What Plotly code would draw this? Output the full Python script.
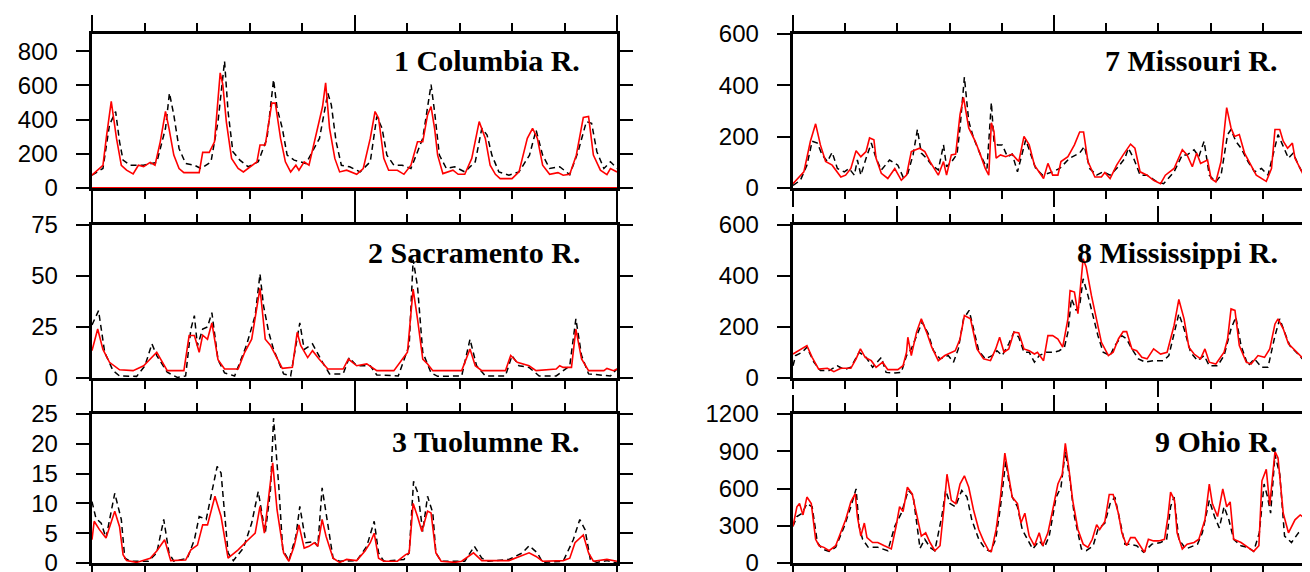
import plotly.graph_objects as go

# ---------------- data (months since start, monthly discharge) ----------------
col_blk_m = [0,2.5,4,5.4,6.3,7.1,8.7,11.8,14.8,16.8,17.7,18.7,19.9,21.4,23.4,24.9,27.2,28.8,30.3,31.1,32.2,33.8,35.7,38,40,41.5,42.3,43.5,44.6,46.2,47.7,48.9,52,53.9,54.7,55.8,57,58.9,61.3,63.6,65.1,66.3,67.4,69,70.9,72.9,75.6,77.5,78.3,79.4,81,82.9,85.2,87.6,89.1,90.3,91.4,93,95.3,97.6,100,101.5,103,104.6,106.9,109.2,111.1,113,114.2,115.4,117,118.5,120]
col_blk_v = [75,114,369,447,270,163,133,133,150,349,555,427,231,143,133,114,153,388,741,447,212,163,124,153,290,633,467,349,192,163,153,143,290,555,486,270,133,124,94,153,418,349,192,133,133,114,290,604,447,192,114,124,94,153,349,310,192,94,75,94,192,339,192,114,124,78,212,388,378,212,114,153,114]
col_red_m = [0,2.5,3.3,4.4,5.6,6.7,7.9,9.4,10.6,11.8,13.3,14.4,15.6,16.8,17.6,18.7,19.9,21,22.6,24.5,25.3,26.8,28,29.3,29.9,30.7,31.9,33.4,34.6,36.5,37.7,38.4,39.6,41.1,41.9,43.1,44.2,45.4,46.6,47.3,48.5,49.6,51.2,52.7,53.4,54.3,55.5,56.6,58.2,60.5,62,63.6,64.7,65.5,66.7,67.8,69.8,71.3,72.9,74.4,75.6,76.7,77.5,78.3,79,80.2,82.5,83.7,85.2,86.8,88.5,89.9,91,92.2,93.3,96,97.6,99.5,100.7,101.8,103,104.6,106.5,107.7,109.2,110.7,112.3,113.5,114.6,116.2,117.7,118.5,120]
col_red_v = [75,133,300,506,290,133,104,82,133,125,150,133,270,447,349,192,114,90,90,90,208,208,270,673,604,388,173,114,94,133,153,251,251,496,496,290,153,94,133,104,153,133,310,476,614,349,173,94,104,80,114,290,447,408,173,104,104,80,133,270,270,427,476,349,192,84,104,80,80,173,388,290,133,80,55,55,94,290,349,290,133,80,90,75,80,192,412,418,192,104,78,114,94]

sac_blk_m = [0,1.5,2.9,4.8,6.3,10.2,12.1,13.7,14.8,17.2,19.5,21.4,22.6,23.4,24.1,25.3,26.4,27.4,28.8,30.3,32.6,35.3,37.3,38.4,39.2,40.4,41.5,43.8,45.4,46.6,47.5,48.5,50.4,52.7,54.3,57.4,58.8,60.5,63.6,65.1,70,72.5,73.4,74.4,75.6,77.5,79,84.5,86.4,87.9,89.9,94.5,96,97.6,99.9,102.2,106.1,109.2,110.6,111.9,113.5,118.5,120]
sac_blk_v = [26,33,12.6,3.6,1,0.8,6,16.7,11,2.8,0.3,1,24,30.6,15.8,24,25,32,9,2.5,1,16,30.6,51,35.5,22.4,14,2,1,16,27,14,16.7,7.7,2,2,10,6,6,1.5,1,16,58,45,12.6,2.5,0.8,1,19,6,1,1,11,6,5.2,1,1,6,29,11,2,1,4.4]
sac_red_m = [0,1.3,2.5,4,6.3,9.4,11.8,14.8,17.2,21,22.2,23.4,24.5,25.3,26.4,27.4,28.8,30.3,33.4,34.9,36.5,38.4,39.6,40.8,43.5,45.8,46.9,47.7,49.3,50.4,51.9,53.9,57.4,58.6,60.5,62.8,65.1,69,72.1,73.4,74.4,75.6,76.7,77.9,84.5,86.4,87.6,89.1,94.5,95.7,97.2,99.9,101.5,106.1,106.9,107.7,109.6,110.6,111.9,113.5,117,117.7,119.2,120]
sac_red_v = [13.4,24,14,7.7,4,3.6,6,12.6,3.6,3.6,20.8,20.8,12.6,21,19,27,9,4.4,4.4,12.6,19,44,19,16,4.7,5.2,22.4,16,10,13.4,9.3,4.4,4.4,9.3,6,6.9,3.6,3.6,12.6,43.6,29,9.3,6.9,3.6,3.6,14.2,6,3.6,3.6,11,7.7,6,3.6,4.4,6,5.2,5.2,24,9.3,3.6,3.6,4.7,3.6,4.4]

tuo_blk_m = [0,0.9,2.1,3.2,5.2,6.7,7.5,8.7,12.9,14.8,16.4,17.6,18.7,21.8,23.4,24.5,26.1,27.2,28.6,29.5,30.3,31.1,32.3,34.6,36.5,38,39.6,40.8,41.5,42.7,43.6,45,46.6,47.5,48.9,50.8,51.6,52.6,53.5,55.1,56.6,60.5,62.8,64.5,65.5,66.7,71.3,72.5,73.5,74.5,75.6,76.7,77.9,78.6,79.8,85.2,87.4,89.1,90.6,95.3,98.4,99.9,101.8,103,107.7,110,111.5,112.7,113.9,115.4,117.7,120]
tuo_blk_v = [10.3,7.5,6.7,4.2,11.7,7.3,0.8,0.3,0.3,1.7,7.3,1.7,0.3,0.8,3.9,7.8,7.3,11.2,16.2,15.1,7.8,1.7,0.4,2.5,6.7,12,5,12.3,24.3,12.8,2.2,0.4,4.5,9.5,3.4,3.6,2.8,12.6,8.4,0.8,0.3,0.4,2.8,7,1.7,0.3,0.6,1.7,13.7,11.7,5.3,11.2,8.4,1.7,0.3,0.3,2.8,0.8,0.3,0.6,1.7,2.9,1.7,0.1,0.3,3.9,7.3,5.6,0.6,0.1,0.4,0]
tuo_red_m = [0,0.5,1.7,3.2,5.2,6.3,7.1,7.9,10.2,13.3,14.8,16.6,18,21.4,22.6,24.1,25.3,26.4,28.1,29.5,31.1,33.4,35.3,37.3,38.4,39.4,40.4,41.3,42.3,43.8,45,46.2,47.3,48.5,49.6,50.8,51.6,52.6,53.5,55.1,56.6,58.2,60.5,62.4,63.6,64.5,65.5,66.7,69.8,71.7,72.5,73.4,74.4,75.4,76.7,77.5,78.6,79.8,82.9,84.5,87.2,89.1,95.3,97.6,99.9,101.5,103,107.7,109.2,110.4,112.3,113.5,114.6,117.7,120]
tuo_red_v = [3.9,7,5.6,4.2,8.7,6.1,1.4,0.4,0.1,0.8,2,3.9,0.4,0.5,2.2,3,6.4,6.4,11.2,7.8,0.8,2.2,3.6,5,9.5,5,11.2,16.8,8.9,1.7,0.3,2.8,6.4,2.5,2.8,3.4,2.8,7.3,4.5,0.8,0.1,0.6,0.4,2,3.4,5,0.8,0.3,0.3,1.4,1.7,10,7.8,5.3,8.7,8.4,1.7,0.3,0.1,0.3,1.7,0.4,0.4,1.1,1.7,1.1,0.3,0.4,0.8,3.4,4.7,1.7,0.3,0.6,0.3]

mo_blk_m = [0,1.7,3.2,4.4,5.6,6.7,7.9,9,10.2,11.8,12.9,14.1,14.8,15.6,16.8,18,19.1,20.3,22.2,24.1,25.3,26.4,27.6,28.6,29.5,30.7,31.9,33.4,34.6,35.3,36.5,37.7,38.4,39.4,40.4,41.5,43.1,44.6,45.6,46.2,47,48.1,49.3,50.4,51.6,53.5,54.7,55.8,57.4,59.7,61.3,63.6,65.9,67,68.2,69.8,71.3,72.9,74.8,76.3,77.1,78.3,79.8,81.4,83.7,85.2,87.6,89.5,90.6,92.2,93.3,94.5,95.7,97.2,98.4,99.9,100.7,101.8,103,104.6,106.1,107.7,109.2,110.1,111.5,112.7,113.9,115,116.2,117.4,118.9,120]
mo_blk_v = [10,30,89,182,175,129,103,139,76,63,76,50,109,50,116,175,116,70,109,89,43,57,129,228,136,116,89,70,168,83,103,132,234,432,260,195,129,76,333,182,168,168,122,132,63,188,129,76,50,63,76,116,136,162,76,50,63,50,83,116,155,116,50,50,24,17,63,129,129,149,122,182,50,24,50,208,228,182,155,103,63,76,50,116,208,162,116,136,89,50,103,63]
mo_red_m = [0,2.5,4,5.2,6.3,7.5,9,11,12.1,13.3,14.5,15.6,16.8,17.6,18.6,19.1,20.3,21.8,23.4,24.9,26.1,27.2,29.1,30.3,31.5,33.4,34.6,35.3,36.4,37.4,38.4,39.2,40.4,41.9,43.1,44.2,45,45.6,46.2,46.7,47.7,48.9,50.4,51.9,53.1,54.3,55.5,56.6,57.6,58.6,59.7,60.9,61.6,63.2,64.7,65.9,66.8,67.8,69.4,70.9,71.7,72.9,74.4,75.9,77.6,78.6,79.8,81.4,82.9,84.5,85.6,87.6,89.5,90.6,91.8,92.8,93.7,95.3,96.1,97.2,98.4,99.7,100.7,101.5,102.6,103.8,105.3,106.5,108.8,110,110.8,111.9,112.7,113.7,114.8,115.4,116.6,117.7,118.9,120]
mo_red_v = [17,63,182,250,168,103,89,43,50,76,145,122,142,195,188,116,57,37,76,30,50,142,155,142,103,50,103,50,129,132,287,353,234,182,129,76,50,254,221,116,129,122,132,103,201,168,89,63,37,96,50,50,103,122,168,218,218,103,43,43,60,37,89,129,171,155,63,50,30,17,50,76,149,129,83,136,96,109,37,24,103,313,234,201,208,136,89,50,26,76,228,228,182,155,175,116,76,37,57,37]

ms_blk_m = [0,0.6,2.1,3.2,4.8,6.3,8.3,10.2,11.8,13.3,15.2,16.8,18.3,20.3,21.4,23.4,24.9,26.1,27.2,28.4,29.7,31.1,32.3,33.8,35.7,36.9,38,39.2,40.5,41.5,42.7,44.2,45.8,46.9,48.1,49.6,50.8,51.9,53.1,54.3,55.5,56.6,58.2,60,61.2,62.4,63.2,64,65.1,65.9,66.7,67.8,69,70.1,71.3,72.9,74,75.6,76.7,77.9,79.4,81,82.9,85.2,86.4,87.6,88.7,89.9,91.4,93,94.5,95.7,97.6,99.1,100.7,101.8,103,104.6,106.1,107.7,109.2,110.8,111.9,113,114.2,115.7,117.4,118.9,120]
ms_blk_v = [48,88,101,121,62,29,29,48,33,42,101,81,42,81,22,20,22,88,114,166,219,173,107,75,88,62,114,232,265,193,107,75,88,107,88,134,180,160,101,101,62,88,101,101,107,121,180,311,265,284,389,324,245,166,101,88,127,166,153,114,75,62,68,68,88,180,252,193,101,68,88,48,48,88,193,239,127,48,75,42,42,166,232,180,127,101,68,42,48]
ms_red_m = [0,1.3,3.2,4.4,5.9,7.9,9.4,11,13.3,14.5,15.5,16.6,18,19.1,20.6,21.8,24.1,25.3,26.1,26.4,27.2,28.4,29.5,30.7,31.9,33.4,34.9,37.3,38.4,39.4,40.8,42.3,43.8,45.4,46.6,47.5,48.5,49.6,50.8,51.9,53.1,54.3,55.5,56.2,57.6,58.6,59.7,60.9,62,63.2,63.7,64.7,65.5,66.7,67.4,68.6,69.8,70.9,72.5,73.6,74.8,75.9,76.7,77.9,79,80.2,81.4,82.9,84.5,86,87.6,88.7,89.9,91,92.2,93.7,94.7,95.7,97.2,99.1,99.9,100.7,101.6,102.6,104.2,105.3,106.9,108.4,109.6,110.8,111.5,112.7,113.9,115.4,117.4,118.5,120]
ms_red_v = [94,107,127,81,35,38,25,38,38,75,114,81,68,42,62,33,33,48,101,160,88,180,232,180,121,68,88,107,153,245,232,114,75,68,114,160,101,114,180,177,114,107,94,101,68,166,166,153,121,232,343,337,252,468,435,324,232,140,88,101,153,182,182,114,107,81,75,114,94,101,206,308,232,121,94,75,114,62,55,101,153,271,265,127,62,55,88,81,114,212,232,193,134,107,75,55,68]

oh_blk_m = [0,0.9,2.1,3.2,4.4,5.6,6.7,8.3,9.8,11.8,13.3,14.5,15.2,16,17.3,19.5,21.8,23.4,24.9,26.5,27.6,29.2,30.3,31.5,32.6,34.2,35.1,36.1,37.3,38.8,40,41.1,42.7,44.2,45.4,46.6,47.7,48.9,49.6,50.4,51.6,52.7,53.9,55.1,56.6,57.8,58.9,60.5,61.6,62.6,63.6,64.7,66.3,67.4,69,70.1,71.7,72.9,74,75.2,76.3,77.5,79,80.6,82.5,84.5,85.9,86.8,87.6,88.7,90.3,93,94.1,95.7,96.9,98,99.1,100.2,101.3,103,104.6,105.9,107.2,108.3,109.1,109.8,110.8,111.9,113,114.6,116.2,117.7,118.9,119.6,120]
oh_blk_v = [296,374,401,479,453,165,113,94,126,296,453,597,296,191,126,126,99,296,401,584,545,118,191,126,99,374,584,479,453,584,531,348,191,113,92,191,453,819,662,531,453,270,191,113,178,126,217,531,610,898,688,374,113,99,139,270,322,479,531,322,152,152,139,86,152,165,191,453,531,191,113,152,243,505,374,283,453,348,191,139,126,94,243,636,531,401,872,715,217,165,243,270,243,453,322]
oh_red_m = [0,0.9,1.5,2.3,3.2,4.2,5.2,6,7.1,8.3,9.8,11,12.1,13.3,14.3,14.8,15.6,16.4,17,18.3,19.5,21,22.6,23.7,24.5,25.3,26.3,27.4,28.6,29.5,30.5,31.5,32.6,33.8,34.8,35.4,36.4,37.4,38.4,39.4,40.4,41.5,42.7,43.8,45,45.6,46.7,47.7,48.7,49.5,50.4,51.6,52.4,53.3,54.3,55.5,56.6,57.4,58.6,59.7,60.9,61.9,62.6,63.4,64.3,65.5,66.7,67.8,68.8,69.8,70.5,71.7,72.7,73.6,74.8,75.6,76.7,77.6,78.6,79.8,80.8,81.7,82.9,84.1,85.4,86.2,86.8,87.7,88.3,89.5,90.6,92.2,93.3,94.7,95.7,96.4,97.6,98.8,99.7,100.5,101.3,103,104.6,105.9,107.1,107.8,108.8,109.6,110.8,111.5,112.7,113.9,115.4,116.6,117.7,118.9,119.6,120]
oh_red_v = [296,453,479,387,531,479,191,139,126,99,139,243,348,492,558,374,217,322,204,165,165,139,113,296,453,414,610,558,348,217,243,165,99,139,479,715,505,479,636,702,610,427,270,178,99,92,270,531,885,715,531,479,322,401,217,139,243,139,243,427,636,715,963,767,505,270,152,126,191,309,270,335,552,552,401,243,139,204,204,139,86,191,178,178,191,374,571,505,243,113,152,165,191,348,636,479,374,597,453,492,191,165,126,94,139,662,754,466,898,846,401,243,348,387,361,427,500,479]

panel_titles = ["1 Columbia R.", "2 Sacramento R.", "3 Tuolumne R.",
                "7 Missouri R.", "8 Mississippi R.", "9 Ohio R."]
y_ranges = [[0, 900], [0, 75], [0, 25], [0, 600], [0, 600], [0, 1200]]
y_dticks = [200, 25, 5, 200, 200, 300]
major_tick0 = [0, 0, 0, 0, 24, 0]

series = [
    (col_blk_m, col_blk_v, col_red_m, col_red_v),
    (sac_blk_m, sac_blk_v, sac_red_m, sac_red_v),
    (tuo_blk_m, tuo_blk_v, tuo_red_m, tuo_red_v),
    (mo_blk_m, mo_blk_v, mo_red_m, mo_red_v),
    (ms_blk_m, ms_blk_v, ms_red_m, ms_red_v),
    (oh_blk_m, oh_blk_v, oh_red_m, oh_red_v),
]

# ---------------- layout geometry ----------------
W, H = 1310, 572
col_x = [(84, 609), (785, 1307)]
row_y = [(26, 180), (217, 370), (406, 555)]

fig = go.Figure()
layout = dict(width=W, height=H, margin=dict(l=0, r=0, t=0, b=0),
              paper_bgcolor="white", plot_bgcolor="white", showlegend=False)

for i in range(6):
    c, r = i // 3, i % 3
    x0, x1 = col_x[c]
    ytop, ybot = row_y[r]
    xa = "xaxis" if i == 0 else f"xaxis{i+1}"
    ya = "yaxis" if i == 0 else f"yaxis{i+1}"
    xr = "x" if i == 0 else f"x{i+1}"
    yr = "y" if i == 0 else f"y{i+1}"
    layout[xa] = dict(domain=[x0 / W, x1 / W], range=[0, 120], anchor=yr,
                      showgrid=False, zeroline=False, showline=True, linewidth=3,
                      linecolor="black", mirror="allticks", ticks="outside",
                      tickmode="linear", tick0=major_tick0[i], dtick=60,
                      ticklen=16, tickwidth=2, tickcolor="black", showticklabels=False,
                      minor=dict(tickmode="linear", tick0=0, dtick=12, ticks="outside",
                                 ticklen=8, tickwidth=2, tickcolor="black", showgrid=False),
                      automargin=False, fixedrange=True)
    layout[ya] = dict(domain=[1 - ybot / H, 1 - ytop / H], range=y_ranges[i], anchor=xr,
                      showgrid=False, zeroline=False, showline=True, linewidth=3,
                      linecolor="black", mirror="allticks", ticks="outside",
                      tickmode="linear", tick0=0, dtick=y_dticks[i],
                      ticklen=13, tickwidth=2, tickcolor="black",
                      ticksuffix="\u00a0\u00a0", ticklabeloverflow="allow",
                      tickfont=dict(family="Liberation Sans, Arial, sans-serif", size=24, color="black"),
                      automargin=False, fixedrange=True)
    bm, bv, rm, rv = series[i]
    fig.add_trace(go.Scatter(x=bm, y=bv, mode="lines", xaxis=xr, yaxis=yr,
                             line=dict(color="black", width=1.5, dash="6px,4px")))
    fig.add_trace(go.Scatter(x=rm, y=rv, mode="lines", xaxis=xr, yaxis=yr,
                             line=dict(color="#ff0000", width=1.6)))
    fig.add_annotation(text="<b>" + panel_titles[i] + "</b>",
                       xref=f"{xr} domain", yref=f"{yr} domain",
                       x=1 - 35 / (x1 - x0), y=1 - 27 / (ybot - ytop),
                       xanchor="right", yanchor="middle", showarrow=False,
                       font=dict(family="Liberation Serif, Times New Roman, serif",
                                 size=30, color="black"))
    if i == 0:
        fig.add_shape(type="line", xref=f"{xr} domain", yref=yr, x0=0, x1=1, y0=0, y1=0,
                      line=dict(color="#ff0000", width=2))

fig.update_layout(**layout)
fig.write_html("out.html")
